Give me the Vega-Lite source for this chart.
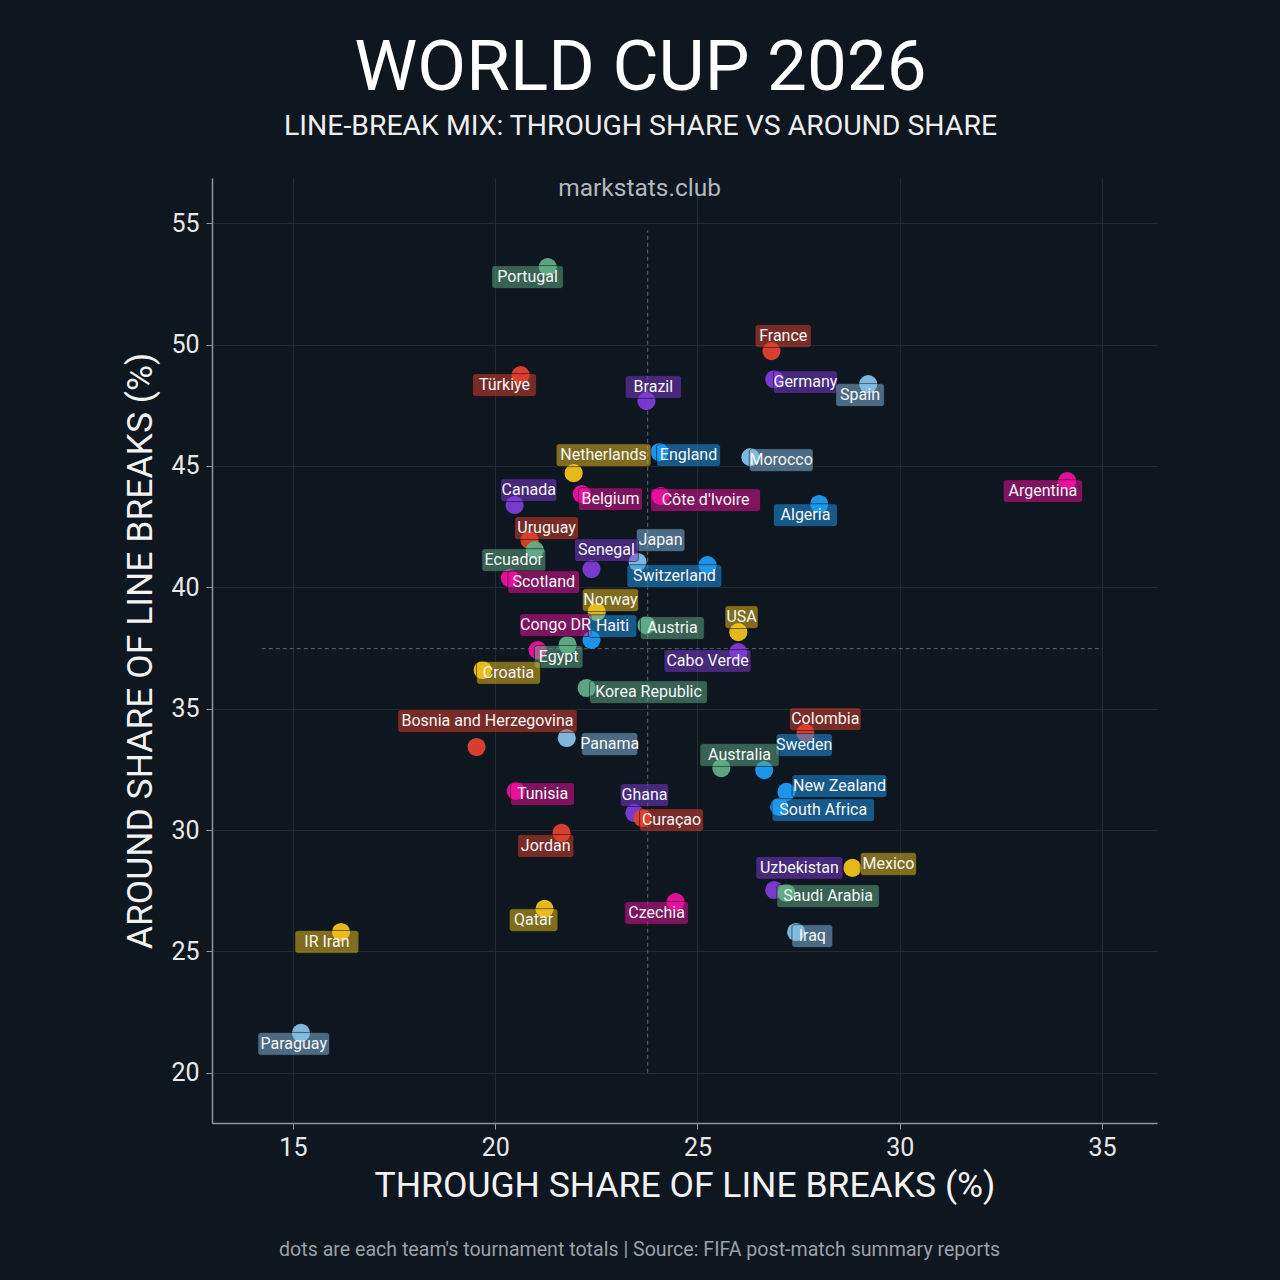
{
  "$schema": "https://vega.github.io/schema/vega-lite/v6.json",
  "autosize": {"type": "none"},
  "width": 945,
  "height": 945,
  "padding": {"left": 212, "top": 178, "right": 123, "bottom": 157},
  "background": "#0e1620",
  "config": {
    "font": "Roboto",
    "view": {"stroke": null},
    "axis": {
      "gridColor": "#1f2a34",
      "gridWidth": 1,
      "domainColor": "#8d979e",
      "domainWidth": 1.5,
      "tickColor": "#8d979e",
      "tickSize": 6,
      "labelFontSize": 25,
      "labelColor": "#e8e8e8",
      "labelFont": "Roboto",
      "titleFont": "Roboto",
      "titleFontSize": 35.5,
      "titleFontWeight": "normal",
      "titleColor": "#f2f2f2"
    }
  },
  "title": {
    "text": "WORLD CUP 2026",
    "subtitle": "LINE-BREAK MIX: THROUGH SHARE VS AROUND SHARE",
    "anchor": "middle",
    "frame": "group",
    "dx": -44,
    "offset": 35,
    "font": "Roboto",
    "fontSize": 71,
    "fontWeight": "normal",
    "color": "#ffffff",
    "subtitleFont": "Roboto",
    "subtitleFontSize": 28.4,
    "subtitleColor": "#eeeeee",
    "subtitlePadding": 8
  },
  "datasets": {
    "teams": [
      {"team": "Portugal", "x": 21.30, "y": 53.19, "grp": "G", "lx": 20.80, "ly": 52.78},
      {"team": "Türkiye", "x": 20.63, "y": 48.74, "grp": "R", "lx": 20.23, "ly": 48.33},
      {"team": "Brazil", "x": 23.74, "y": 47.67, "grp": "P", "lx": 23.91, "ly": 48.25},
      {"team": "France", "x": 26.83, "y": 49.73, "grp": "R", "lx": 27.12, "ly": 50.35},
      {"team": "Germany", "x": 26.90, "y": 48.57, "grp": "P", "lx": 27.67, "ly": 48.45},
      {"team": "Spain", "x": 29.22, "y": 48.37, "grp": "L", "lx": 29.02, "ly": 47.92},
      {"team": "Netherlands", "x": 21.94, "y": 44.70, "grp": "Y", "lx": 22.68, "ly": 45.44},
      {"team": "England", "x": 24.06, "y": 45.57, "grp": "B", "lx": 24.78, "ly": 45.44},
      {"team": "Morocco", "x": 26.31, "y": 45.36, "grp": "L", "lx": 27.07, "ly": 45.24},
      {"team": "Argentina", "x": 34.14, "y": 44.37, "grp": "K", "lx": 33.54, "ly": 43.96},
      {"team": "Canada", "x": 20.48, "y": 43.39, "grp": "P", "lx": 20.83, "ly": 44.00},
      {"team": "Belgium", "x": 22.14, "y": 43.84, "grp": "K", "lx": 22.85, "ly": 43.63},
      {"team": "Côte d'Ivoire", "x": 24.09, "y": 43.76, "grp": "K", "lx": 25.20, "ly": 43.59},
      {"team": "Algeria", "x": 28.01, "y": 43.43, "grp": "B", "lx": 27.67, "ly": 42.97},
      {"team": "Uruguay", "x": 20.85, "y": 41.94, "grp": "R", "lx": 21.27, "ly": 42.44},
      {"team": "Ecuador", "x": 20.98, "y": 41.53, "grp": "G", "lx": 20.46, "ly": 41.12},
      {"team": "Japan", "x": 23.52, "y": 41.04, "grp": "L", "lx": 24.09, "ly": 41.94},
      {"team": "Senegal", "x": 22.38, "y": 40.75, "grp": "P", "lx": 22.75, "ly": 41.53},
      {"team": "Switzerland", "x": 25.25, "y": 40.91, "grp": "B", "lx": 24.43, "ly": 40.46},
      {"team": "Scotland", "x": 20.36, "y": 40.38, "grp": "K", "lx": 21.20, "ly": 40.21},
      {"team": "Norway", "x": 22.51, "y": 38.98, "grp": "Y", "lx": 22.85, "ly": 39.47},
      {"team": "Congo DR", "x": 21.05, "y": 37.41, "grp": "K", "lx": 21.49, "ly": 38.44},
      {"team": "Haiti", "x": 22.38, "y": 37.83, "grp": "B", "lx": 22.90, "ly": 38.40},
      {"team": "Egypt", "x": 21.79, "y": 37.62, "grp": "G", "lx": 21.57, "ly": 37.13},
      {"team": "Austria", "x": 23.74, "y": 38.44, "grp": "G", "lx": 24.38, "ly": 38.32},
      {"team": "USA", "x": 26.01, "y": 38.15, "grp": "Y", "lx": 26.09, "ly": 38.77},
      {"team": "Cabo Verde", "x": 26.01, "y": 37.33, "grp": "P", "lx": 25.25, "ly": 36.96},
      {"team": "Croatia", "x": 19.69, "y": 36.59, "grp": "Y", "lx": 20.33, "ly": 36.47},
      {"team": "Korea Republic", "x": 22.26, "y": 35.85, "grp": "G", "lx": 23.79, "ly": 35.68},
      {"team": "Bosnia and Herzegovina", "x": 19.54, "y": 33.42, "grp": "R", "lx": 19.81, "ly": 34.49},
      {"team": "Panama", "x": 21.77, "y": 33.79, "grp": "L", "lx": 22.83, "ly": 33.54},
      {"team": "Colombia", "x": 27.67, "y": 34.00, "grp": "R", "lx": 28.16, "ly": 34.57},
      {"team": "Sweden", "x": 26.65, "y": 32.47, "grp": "B", "lx": 27.64, "ly": 33.50},
      {"team": "Australia", "x": 25.59, "y": 32.55, "grp": "G", "lx": 26.04, "ly": 33.09},
      {"team": "New Zealand", "x": 27.20, "y": 31.57, "grp": "B", "lx": 28.51, "ly": 31.81},
      {"team": "South Africa", "x": 27.02, "y": 30.95, "grp": "B", "lx": 28.11, "ly": 30.82},
      {"team": "Tunisia", "x": 20.51, "y": 31.61, "grp": "K", "lx": 21.17, "ly": 31.48},
      {"team": "Ghana", "x": 23.44, "y": 30.70, "grp": "P", "lx": 23.69, "ly": 31.44},
      {"team": "Curaçao", "x": 23.64, "y": 30.49, "grp": "R", "lx": 24.36, "ly": 30.41},
      {"team": "Jordan", "x": 21.64, "y": 29.88, "grp": "R", "lx": 21.25, "ly": 29.34},
      {"team": "Uzbekistan", "x": 26.90, "y": 27.53, "grp": "P", "lx": 27.52, "ly": 28.44},
      {"team": "Mexico", "x": 28.83, "y": 28.44, "grp": "Y", "lx": 29.72, "ly": 28.60},
      {"team": "Saudi Arabia", "x": 27.20, "y": 27.41, "grp": "G", "lx": 28.23, "ly": 27.28},
      {"team": "Iraq", "x": 27.44, "y": 25.80, "grp": "L", "lx": 27.84, "ly": 25.63},
      {"team": "Qatar", "x": 21.22, "y": 26.75, "grp": "Y", "lx": 20.95, "ly": 26.29},
      {"team": "Czechia", "x": 24.46, "y": 27.03, "grp": "K", "lx": 23.99, "ly": 26.58},
      {"team": "IR Iran", "x": 16.19, "y": 25.80, "grp": "Y", "lx": 15.84, "ly": 25.39},
      {"team": "Paraguay", "x": 15.20, "y": 21.64, "grp": "L", "lx": 15.02, "ly": 21.19}
    ],
    "vref": [{"x": 23.77, "y": 20.0, "y2": 54.7}],
    "href": [{"y": 37.47, "x": 14.23, "x2": 35.0}],
    "notes": [{"note": "markstats.club", "x": 23.57, "y": 56.40}],
    "caption": [{"note": "dots are each team's tournament totals | Source: FIFA post-match summary reports", "x": 23.57, "y": 12.70}]
  },
  "layer": [
    {
      "data": {"name": "vref"},
      "mark": {"type": "rule", "strokeDash": [4, 3], "color": "#5c6872", "strokeWidth": 1},
      "encoding": {
        "x": {"field": "x", "type": "quantitative", "scale": {"domain": [13, 36.36], "nice": false, "zero": false},
              "axis": {"title": "THROUGH SHARE OF LINE BREAKS (%)", "values": [15, 20, 25, 30, 35], "labelPadding": 6, "titlePadding": 8}},
        "y": {"field": "y", "type": "quantitative", "scale": {"domain": [17.93, 56.86], "nice": false, "zero": false},
              "axis": {"title": "AROUND SHARE OF LINE BREAKS (%)", "values": [20, 25, 30, 35, 40, 45, 50, 55], "labelPadding": 7, "titlePadding": 12}},
        "y2": {"field": "y2"}
      }
    },
    {
      "data": {"name": "href"},
      "mark": {"type": "rule", "strokeDash": [4, 3], "color": "#5c6872", "strokeWidth": 1},
      "encoding": {
        "x": {"field": "x", "type": "quantitative"},
        "x2": {"field": "x2"},
        "y": {"field": "y", "type": "quantitative"}
      }
    },
    {
      "data": {"name": "teams"},
      "mark": {"type": "circle", "size": 330, "opacity": 0.95},
      "encoding": {
        "x": {"field": "x", "type": "quantitative"},
        "y": {"field": "y", "type": "quantitative"},
        "color": {"field": "grp", "type": "nominal", "legend": null,
                  "scale": {"domain": ["R", "P", "K", "B", "L", "G", "Y"],
                            "range": ["#e2412e", "#7e3bd6", "#ee109e", "#1f9bf2", "#86bfe6", "#62ad88", "#f1c21b"]}}
      }
    },
    {
      "data": {"name": "teams"},
      "transform": [
        {"calculate": "(length(datum.team) * 7.7 + 10) / 40.45", "as": "w"},
        {"calculate": "datum.lx - datum.w / 2", "as": "bx"},
        {"calculate": "datum.lx + datum.w / 2", "as": "bx2"},
        {"calculate": "datum.ly - 0.47", "as": "by"},
        {"calculate": "datum.ly + 0.47", "as": "by2"}
      ],
      "mark": {"type": "rect", "fillOpacity": 0.5, "cornerRadius": 3, "stroke": "#05080b", "strokeOpacity": 0.5, "strokeWidth": 1},
      "encoding": {
        "x": {"field": "bx", "type": "quantitative"},
        "x2": {"field": "bx2"},
        "y": {"field": "by", "type": "quantitative"},
        "y2": {"field": "by2"},
        "color": {"field": "grp", "type": "nominal", "legend": null}
      }
    },
    {
      "data": {"name": "teams"},
      "mark": {"type": "text", "fontSize": 16, "font": "Roboto", "color": "#f7f7f7", "baseline": "middle", "align": "center"},
      "encoding": {
        "x": {"field": "lx", "type": "quantitative"},
        "y": {"field": "ly", "type": "quantitative"},
        "text": {"field": "team"}
      }
    },
    {
      "data": {"name": "notes"},
      "mark": {"type": "text", "fontSize": 24.5, "font": "Roboto", "color": "#b3b8bd", "baseline": "middle", "align": "center"},
      "encoding": {
        "x": {"field": "x", "type": "quantitative"},
        "y": {"field": "y", "type": "quantitative"},
        "text": {"field": "note"}
      }
    },
    {
      "data": {"name": "caption"},
      "mark": {"type": "text", "fontSize": 19.6, "font": "Roboto", "color": "#9ba1a7", "baseline": "middle", "align": "center", "clip": false},
      "encoding": {
        "x": {"field": "x", "type": "quantitative"},
        "y": {"field": "y", "type": "quantitative"},
        "text": {"field": "note"}
      }
    }
  ]
}
